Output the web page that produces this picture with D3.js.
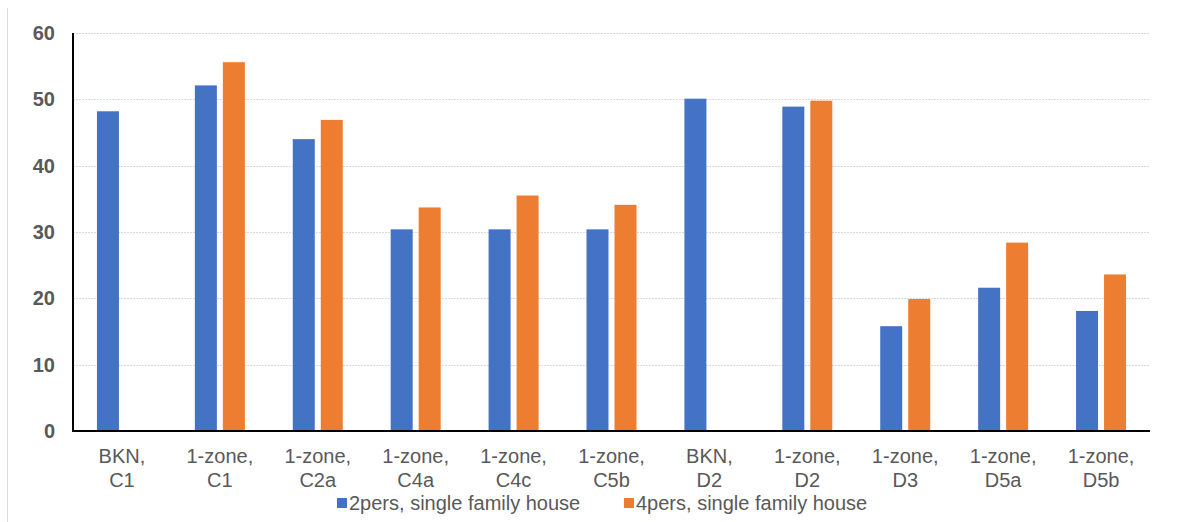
<!DOCTYPE html>
<html>
<head>
<meta charset="utf-8">
<script src="https://cdn.jsdelivr.net/npm/d3@7/dist/d3.min.js"></script>
<style>
  html, body { margin: 0; padding: 0; background: #fff; }
  svg { display: block; font-family: "Liberation Sans", Arial, sans-serif; }
</style>
</head>
<body>
<svg id="chart" width="1184" height="522"></svg>
<script>
// Category labels (two lines each)
const categories = [
  ["BKN,", "C1"], ["1-zone,", "C1"], ["1-zone,", "C2a"], ["1-zone,", "C4a"],
  ["1-zone,", "C4c"], ["1-zone,", "C5b"], ["BKN,", "D2"], ["1-zone,", "D2"],
  ["1-zone,", "D3"], ["1-zone,", "D5a"], ["1-zone,", "D5b"]
];
const seriesNames = ["2pers, single family house", "4pers, single family house"];
const twoPers = [48.2, 52.1, 44.0, 30.4, 30.4, 30.4, 50.1, 48.9, 15.8, 21.6, 18.1];
const fourPers = [null, 55.6, 46.9, 33.7, 35.5, 34.1, null, 49.8, 19.9, 28.4, 23.6];
const yTicks = [0, 10, 20, 30, 40, 50, 60];
const colors = ["#4472C4", "#ED7D31"];

const svg = d3.select("#chart");
const plotLeft = 73, plotRight = 1150, plotTop = 33, plotBottom = 431;

// thin frame line on the left edge
svg.append("line").attr("x1", 7.5).attr("x2", 7.5).attr("y1", 8).attr("y2", 522)
  .attr("stroke", "#d9d9d9").attr("stroke-width", 1);

const x = d3.scaleBand().domain(d3.range(categories.length)).range([plotLeft, plotRight]);
const y = d3.scaleLinear().domain([0, 60]).range([plotBottom, plotTop]);

// gridlines
svg.append("g").selectAll("line").data(yTicks.filter(t => t > 0)).join("line")
  .attr("x1", plotLeft).attr("x2", plotRight)
  .attr("y1", d => Math.round(y(d)) + 0.5).attr("y2", d => Math.round(y(d)) + 0.5)
  .attr("stroke", "#d9d9d9").attr("stroke-width", 1).attr("stroke-dasharray", "2,1");

// y tick labels
const yAxis = d3.axisLeft(y).tickValues(yTicks).tickSize(0).tickPadding(18);
const gy = svg.append("g").attr("transform", `translate(${plotLeft},0)`).call(yAxis);
gy.select(".domain").remove();
gy.selectAll("text").attr("font-size", 20).attr("font-weight", "bold")
  .attr("fill", "#595959").attr("font-family", "Liberation Sans, Arial, sans-serif");

// bars
const barW = 22, gap = 6;
const rows = [];
categories.forEach((c, i) => {
  [twoPers[i], fourPers[i]].forEach((v, s) => {
    if (v != null) rows.push({ i, s, v });
  });
});
const center = i => x(i) + x.bandwidth() / 2;
svg.append("g").selectAll("rect").data(rows).join("rect")
  .attr("x", d => center(d.i) + (d.s === 0 ? -(barW + gap / 2) : gap / 2))
  .attr("y", d => y(d.v))
  .attr("width", barW)
  .attr("height", d => y(0) - y(d.v))
  .attr("fill", d => colors[d.s]);

// axis lines
svg.append("line").attr("x1", plotLeft).attr("x2", plotLeft).attr("y1", plotTop).attr("y2", plotBottom + 1)
  .attr("stroke", "#000").attr("stroke-width", 2);
svg.append("line").attr("x1", plotLeft - 1).attr("x2", plotRight).attr("y1", plotBottom).attr("y2", plotBottom)
  .attr("stroke", "#000").attr("stroke-width", 2);

// category labels
const cl = svg.append("g").selectAll("text").data(categories).join("text")
  .attr("x", (d, i) => center(i))
  .attr("y", 463)
  .attr("text-anchor", "middle")
  .attr("font-size", 20).attr("fill", "#595959");
cl.append("tspan").attr("x", (d, i) => center(i)).text(d => d[0]);
cl.append("tspan").attr("x", (d, i) => center(i)).attr("dy", 24).text(d => d[1]);

// legend
const legendX = [337, 624];
const lg = svg.append("g").selectAll("g").data(seriesNames).join("g")
  .attr("transform", (d, i) => `translate(${legendX[i]},0)`);
lg.append("rect").attr("x", 0).attr("y", 498).attr("width", 10).attr("height", 10)
  .attr("fill", (d, i) => colors[i]);
lg.append("text").attr("x", 12).attr("y", 510).attr("font-size", 20)
  .attr("fill", "#595959").text(d => d);
</script>
</body>
</html>
